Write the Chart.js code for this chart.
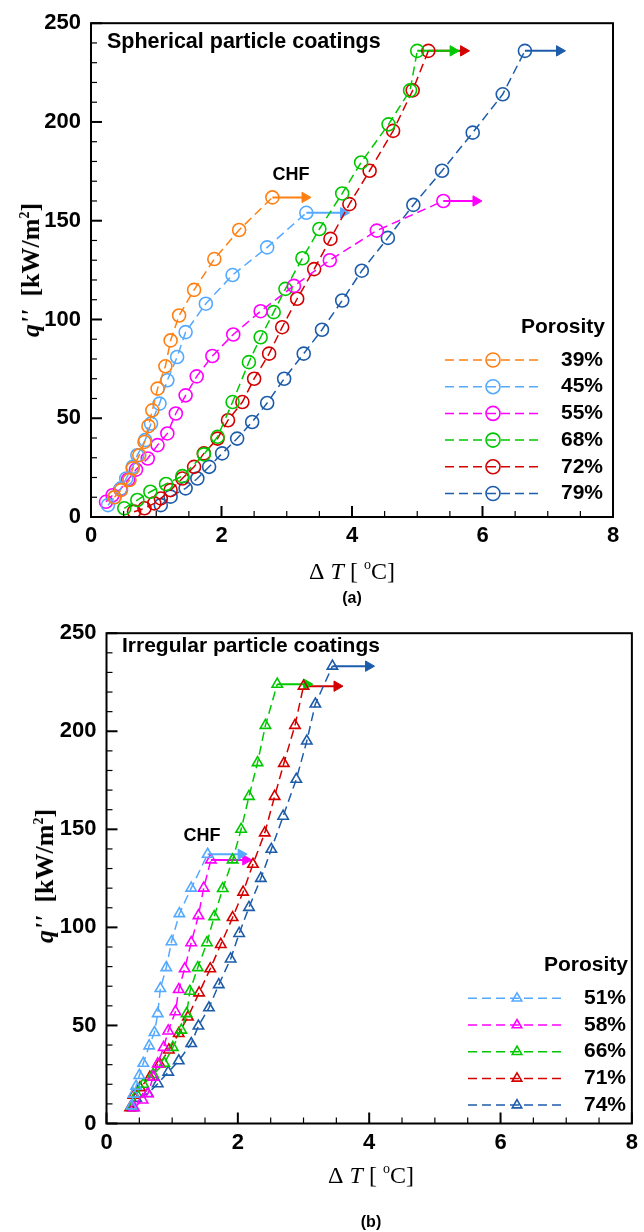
<!DOCTYPE html>
<html>
<head>
<meta charset="utf-8">
<script src="https://cdn.jsdelivr.net/npm/chart.js@4.4.0/dist/chart.umd.min.js"></script>
<style>
  body { margin: 0; background: #fff; }
  #page { position: relative; width: 644px; height: 1232px; overflow: hidden; background: #fff; }
  #page canvas { position: absolute; left: 0; }
  .axis-title { position: absolute; font-family: "Liberation Serif", "Times New Roman", serif; font-size: 24px; line-height: 1; color: #000; white-space: nowrap; transform: translate(-50%, -50%); }
  .axis-title.y { transform: translate(-50%, -50%) rotate(-90deg); font-weight: bold; font-size: 26px; }
  .axis-title sup { font-size: 14px; vertical-align: 10px; line-height: 0; }
  .caption { position: absolute; font-family: "Liberation Sans", Arial, sans-serif; font-weight: bold; font-size: 16px; line-height: 1; transform: translate(-50%, -50%); }
</style>
</head>
<body>
<div id="page">
  <canvas id="chart-a" width="644" height="610" style="top:0"></canvas>
  <canvas id="chart-b" width="644" height="622" style="top:610px"></canvas>

  <div class="axis-title y" style="left:31px;top:270px"><i>q''</i>&nbsp;&nbsp;[kW/m<sup>2</sup>]</div>
  <div class="axis-title" style="left:352px;top:571px">&Delta;&nbsp;<i>T</i>&nbsp;[&nbsp;<sup>o</sup>C]</div>
  <div class="caption" style="left:352px;top:598px">(a)</div>

  <div class="axis-title y" style="left:45px;top:876px"><i>q''</i>&nbsp;&nbsp;[kW/m<sup>2</sup>]</div>
  <div class="axis-title" style="left:371px;top:1175px">&Delta;&nbsp;<i>T</i>&nbsp;[&nbsp;<sup>o</sup>C]</div>
  <div class="caption" style="left:371px;top:1222px">(b)</div>
</div>

<script>
// axis ticks
const xTicks = [0, 2, 4, 6, 8];
const yTicks = [0, 50, 100, 150, 200, 250];

// (a) spherical particle coatings: wall superheat dT [C] and heat flux q [kW/m2]
const sphLabels = ['39%', '45%', '55%', '68%', '72%', '79%'];
const sph39T = [0.36, 0.46, 0.59, 0.64, 0.74, 0.82, 0.88, 0.94, 1.02, 1.14, 1.22, 1.35, 1.58, 1.89, 2.27, 2.78];
const sph39Q = [10, 13.6, 18.7, 24.6, 31.3, 38, 46, 54, 65, 76.3, 89.4, 102, 115, 130.6, 145.3, 161.8];
const sph45T = [0.26, 0.36, 0.46, 0.54, 0.64, 0.71, 0.83, 0.92, 1.05, 1.17, 1.32, 1.45, 1.76, 2.17, 2.70, 3.30];
const sph45Q = [6, 10, 14.5, 19.5, 25.4, 31.3, 38.9, 47.3, 57.4, 69.2, 81, 93.6, 108, 122.5, 136.5, 154];
const sph55T = [0.23, 0.33, 0.45, 0.57, 0.69, 0.87, 1.02, 1.17, 1.30, 1.45, 1.62, 1.86, 2.18, 2.60, 3.11, 3.66, 4.38, 5.40];
const sph55Q = [7.7, 11, 14, 19, 24, 29.6, 36.4, 42.3, 52.4, 61.6, 71.2, 81.5, 92.4, 104.2, 117, 130, 145, 160];
const sph68T = [0.51, 0.71, 0.91, 1.15, 1.40, 1.73, 1.94, 2.17, 2.42, 2.60, 2.80, 2.98, 3.24, 3.50, 3.85, 4.14, 4.56, 4.89, 5.00];
const sph68Q = [4.4, 8.6, 12.8, 16.7, 20.7, 31.7, 40.6, 58.2, 78.4, 91, 103.7, 115.5, 131, 145.8, 163.8, 179.5, 198.8, 216, 236];
const sph72T = [0.66, 0.82, 0.97, 1.07, 1.22, 1.40, 1.58, 1.73, 1.94, 2.10, 2.32, 2.50, 2.73, 2.93, 3.16, 3.42, 3.67, 3.96, 4.27, 4.63, 4.93, 5.17];
const sph72Q = [2.7, 4.4, 6.9, 9.4, 13.6, 19.5, 25.4, 32.2, 39.7, 49, 58.2, 70, 82.7, 96.1, 110.5, 125.5, 140.8, 158.4, 175.3, 195.5, 216, 236];
const sph79T = [1.07, 1.22, 1.45, 1.63, 1.81, 2.01, 2.24, 2.47, 2.70, 2.96, 3.26, 3.54, 3.85, 4.15, 4.55, 4.94, 5.38, 5.85, 6.31, 6.65];
const sph79Q = [6, 10.3, 14.5, 19.5, 25.4, 32.2, 39.7, 48.1, 57.7, 70, 82.7, 94.8, 109.6, 124.7, 141.3, 158, 175.3, 194.6, 214, 236];
const sphChfTip = [3.28, 3.87, 5.90, 5.55, 5.71, 7.18];

// (b) irregular particle coatings
const irrLabels = ['51%', '58%', '66%', '71%', '74%'];
const irr51T = [0.38, 0.41, 0.45, 0.50, 0.56, 0.65, 0.73, 0.78, 0.82, 0.91, 0.99, 1.11, 1.29, 1.54];
const irr51Q = [9, 15, 19, 24.5, 30.7, 39.6, 46.4, 56, 68.8, 79.5, 92.7, 107, 120, 137.3];
const irr58T = [0.42, 0.55, 0.63, 0.71, 0.78, 0.87, 0.94, 1.05, 1.10, 1.19, 1.29, 1.40, 1.48, 1.59];
const irr58Q = [8, 12, 15.2, 23.6, 30.4, 38.8, 47.2, 57, 68.3, 78.9, 92.2, 106, 120, 134.4];
const irr66T = [0.40, 0.46, 0.56, 0.71, 0.88, 1.01, 1.14, 1.22, 1.27, 1.39, 1.53, 1.64, 1.77, 1.92, 2.05, 2.17, 2.30, 2.42, 2.60];
const irr66Q = [9, 15, 20, 25, 30.7, 38.8, 47.6, 56, 67.4, 79.5, 92.2, 105.5, 119.8, 134.4, 150, 166.8, 184, 203, 224];
const irr71T = [0.36, 0.41, 0.51, 0.66, 0.81, 0.95, 1.10, 1.24, 1.41, 1.58, 1.74, 1.92, 2.08, 2.23, 2.41, 2.56, 2.70, 2.87, 3.00];
const irr71Q = [8, 14.4, 18.3, 23.6, 30.4, 37.5, 45.9, 54.3, 66.6, 78.9, 91.3, 105, 118, 132.2, 148.2, 166.8, 183.6, 203, 223];
const irr74T = [0.40, 0.45, 0.63, 0.78, 0.94, 1.10, 1.29, 1.40, 1.56, 1.71, 1.89, 2.02, 2.17, 2.35, 2.51, 2.69, 2.89, 3.05, 3.18, 3.44];
const irr74Q = [8, 12.9, 15.3, 20.3, 26.2, 32, 40.8, 49.7, 59, 70.8, 83.9, 96.9, 110.2, 125, 139.8, 156.7, 175.5, 195, 213.9, 233.2];
const irrChfTip = [2.05, 2.12, 3.05, 3.51, 3.99];

const sphColors = ['#ff8012', '#55aaff', '#ff00ff', '#00c800', '#d40000', '#1c5caa'];
const irrColors = ['#55aaff', '#ff00ff', '#00c800', '#d40000', '#1c5caa'];

const SANS = '"Liberation Sans", Arial, sans-serif';

// frame, inward ticks, in-plot texts and the legend
const overlayPlugin = {
    id: 'overlay',
    afterDraw: function(chart, args, o) {
        const ctx = chart.ctx;
        const a = chart.chartArea;
        const xs = chart.scales.x, ys = chart.scales.y;
        ctx.save();
        ctx.strokeStyle = '#000';
        ctx.setLineDash([]);

        for (let v = xs.min; v <= xs.max + 1e-9; v += 0.5) {
            const px = xs.getPixelForValue(v);
            const major = Math.abs(v / 2 - Math.round(v / 2)) < 1e-6;
            ctx.lineWidth = major ? 2 : 1.2;
            ctx.beginPath();
            ctx.moveTo(px, a.bottom);
            ctx.lineTo(px, a.bottom - (major ? 11 : 6));
            ctx.stroke();
        }
        for (let v = ys.min; v <= ys.max + 1e-9; v += 10) {
            const py = ys.getPixelForValue(v);
            const major = v % 50 === 0;
            ctx.lineWidth = major ? 2 : 1.2;
            ctx.beginPath();
            ctx.moveTo(a.left, py);
            ctx.lineTo(a.left + (major ? 11 : 6), py);
            ctx.stroke();
        }
        ctx.lineWidth = 2;
        ctx.strokeRect(a.left, a.top, a.right - a.left, a.bottom - a.top);

        ctx.fillStyle = '#000';
        ctx.font = 'bold ' + o.titleSize + 'px ' + SANS;
        ctx.textBaseline = 'middle';
        ctx.textAlign = 'left';
        ctx.fillText(o.title, o.titleX, o.titleY);
        ctx.font = 'bold 18px ' + SANS;
        ctx.textAlign = 'center';
        ctx.fillText('CHF', o.chfX, o.chfY);

        ctx.font = 'bold 21px ' + SANS;
        ctx.textAlign = 'right';
        ctx.fillText('Porosity', o.legRight, o.legTitleY);
        o.labels.forEach((lab, i) => {
            const ly = o.legY0 + i * o.legDy;
            ctx.strokeStyle = o.colors[i];
            ctx.lineWidth = 1.5;
            ctx.setLineDash([9, 5]);
            ctx.beginPath();
            ctx.moveTo(o.legX1, ly);
            ctx.lineTo(o.legX2, ly);
            ctx.stroke();
            ctx.setLineDash([]);
            ctx.fillStyle = 'rgba(0,0,0,0)';
            ctx.lineWidth = 1.6;
            Chart.helpers.drawPoint(ctx, { pointStyle: o.pointStyle, radius: o.legRadius, borderWidth: 1.6, rotation: 0 }, o.legMarkX, ly);
            ctx.fillStyle = '#000';
            ctx.fillText(lab, o.legRight - 2, ly);
        });
        ctx.restore();
    }
};

window.boilingCharts = {
    charts: [],

    init: function() {
        this.render();
    },

    series: function(ts, qs, color, style, radius) {
        return {
            data: ts.map((t, i) => ({ x: t, y: qs[i] })),
            borderColor: color,
            backgroundColor: 'rgba(0,0,0,0)',
            borderWidth: 1.5,
            borderDash: [9, 5],
            pointStyle: style,
            pointRadius: radius,
            pointBorderWidth: 1.6,
            pointBorderColor: color,
            pointBackgroundColor: 'rgba(0,0,0,0)',
            tension: 0,
            fill: false
        };
    },

    arrow: function(ts, qs, tip, color) {
        const n = ts.length - 1;
        return {
            data: [{ x: ts[n], y: qs[n] }, { x: tip, y: qs[n] }],
            borderColor: color,
            backgroundColor: color,
            borderWidth: 2,
            pointStyle: 'triangle',
            rotation: 90,
            pointRadius: [0, 6],
            pointBorderWidth: 1,
            pointBorderColor: color,
            pointBackgroundColor: color,
            fill: false
        };
    },

    options: function(padTop, padRight, yWidth, xHeight, overlay) {
        const tickFont = { family: SANS, size: 22, weight: 'bold' };
        return {
            responsive: false,
            animation: false,
            layout: { padding: { top: padTop, right: padRight, left: 0, bottom: 0 } },
            plugins: { legend: { display: false }, tooltip: { enabled: false }, overlay: overlay },
            scales: {
                x: {
                    type: 'linear',
                    min: xTicks[0],
                    max: xTicks[xTicks.length - 1],
                    ticks: { stepSize: xTicks[1] - xTicks[0], font: tickFont, color: '#000', padding: 6, maxRotation: 0 },
                    grid: { display: false, drawTicks: false },
                    border: { display: false },
                    afterFit: function(s) { s.height = xHeight; }
                },
                y: {
                    min: yTicks[0],
                    max: yTicks[yTicks.length - 1],
                    ticks: { stepSize: yTicks[1] - yTicks[0], font: tickFont, color: '#000', padding: 10 },
                    grid: { display: false, drawTicks: false },
                    border: { display: false },
                    afterFit: function(s) { s.width = yWidth; }
                }
            }
        };
    },

    render: function() {
        const sphT = [sph39T, sph45T, sph55T, sph68T, sph72T, sph79T];
        const sphQ = [sph39Q, sph45Q, sph55Q, sph68Q, sph72Q, sph79Q];
        const dsA = sphT.map((t, i) => this.series(t, sphQ[i], sphColors[i], 'circle', 6.5));
        sphT.forEach((t, i) => dsA.push(this.arrow(t, sphQ[i], sphChfTip[i], sphColors[i])));

        this.charts.push(new Chart(document.getElementById('chart-a'), {
            type: 'line',
            data: { datasets: dsA },
            options: this.options(22, 31, 91, 93, {
                title: 'Spherical particle coatings', titleSize: 21.5, titleX: 107, titleY: 42,
                chfX: 291, chfY: 175,
                labels: sphLabels, colors: sphColors, pointStyle: 'circle', legRadius: 7,
                legRight: 605, legTitleY: 327, legY0: 360, legDy: 26.7,
                legX1: 445, legX2: 538, legMarkX: 493
            }),
            plugins: [overlayPlugin]
        }));

        const irrT = [irr51T, irr58T, irr66T, irr71T, irr74T];
        const irrQ = [irr51Q, irr58Q, irr66Q, irr71Q, irr74Q];
        const dsB = irrT.map((t, i) => this.series(t, irrQ[i], irrColors[i], 'triangle', 6));
        irrT.forEach((t, i) => dsB.push(this.arrow(t, irrQ[i], irrChfTip[i], irrColors[i])));

        this.charts.push(new Chart(document.getElementById('chart-b'), {
            type: 'line',
            data: { datasets: dsB },
            options: this.options(18.5, 8, 106.5, 108.5, {
                title: 'Irregular particle coatings', titleSize: 21, titleX: 122, titleY: 36,
                chfX: 202, chfY: 226,
                labels: irrLabels, colors: irrColors, pointStyle: 'triangle', legRadius: 5.5,
                legRight: 628, legTitleY: 355, legY0: 388.3, legDy: 26.7,
                legX1: 468, legX2: 563, legMarkX: 517
            }),
            plugins: [overlayPlugin]
        }));
    }
};

window.boilingCharts.init();
</script>
</body>
</html>
